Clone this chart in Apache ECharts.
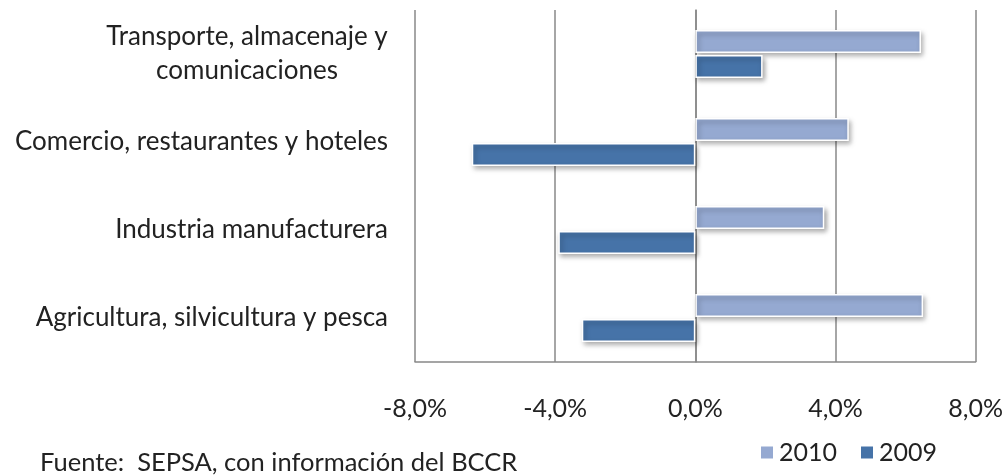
<!DOCTYPE html>
<html>
<head>
<meta charset="utf-8">
<script src="https://cdn.jsdelivr.net/npm/echarts@6/dist/echarts.min.js"></script>
<style>
  html, body { margin: 0; padding: 0; background: #fff; }
  #chart { width: 1006px; height: 476px; }
</style>
</head>
<body>
<div id="chart"></div>
<script>
// categories bottom -> top
var sectores = [
  'Agricultura, silvicultura y pesca',
  'Industria manufacturera',
  'Comercio, restaurantes y hoteles',
  'Transporte, almacenaje y\ncomunicaciones'
];
var valores2010 = [6.50, 3.68, 4.38, 6.44];
var valores2009 = [-3.24, -3.91, -6.38, 1.92];
var ticksX = [-8, -4, 0, 4, 8];

var chart = echarts.init(document.getElementById('chart'));
var fuente = 'Lato, "Open Sans", sans-serif';

function fmtPct(v) {
  return v.toFixed(1).replace('.', ',') + '%';
}

var estiloBarra = function (color) {
  return {
    color: color,
    borderColor: '#fff',
    borderWidth: 1.5,
    shadowBlur: 5,
    shadowOffsetX: 2,
    shadowOffsetY: 3,
    shadowColor: 'rgba(0,0,0,0.35)'
  };
};

var option = {
  animation: false,
  textStyle: { fontFamily: fuente },
  grid: { left: 415, right: 28, top: 10, bottom: 114 },
  legend: {
    data: ['2010', '2009'],
    right: 64,
    bottom: 6,
    itemWidth: 14,
    itemHeight: 14,
    itemGap: 22,
    icon: 'rect',
    textStyle: { fontSize: 25, color: '#222', fontFamily: fuente }
  },
  graphic: [{
    type: 'text',
    left: 40,
    bottom: 0,
    style: {
      text: 'Fuente:  SEPSA, con información del BCCR',
      fontSize: 25.5,
      fontFamily: fuente,
      fill: '#222'
    }
  }],
  xAxis: {
    type: 'value',
    min: ticksX[0],
    max: ticksX[ticksX.length - 1],
    interval: 4,
    axisLine: { show: true, lineStyle: { color: '#888', width: 1.5 } },
    axisTick: { show: false },
    splitLine: { show: true, lineStyle: { color: '#888', width: 1.5 } },
    axisLabel: {
      formatter: fmtPct,
      fontSize: 25,
      color: '#222',
      margin: 34
    }
  },
  yAxis: {
    type: 'category',
    data: sectores,
    axisLine: { show: true, lineStyle: { color: '#888', width: 1.5 } },
    axisTick: { show: false },
    axisLabel: {
      fontSize: 26,
      color: '#222',
      margin: 27,
      lineHeight: 34,
      formatter: function (v) {
        if (v.indexOf('\n') >= 0) return '{t|' + v + '}';
        return v;
      },
      rich: {
        t: { width: 282, align: 'center', fontSize: 26, lineHeight: 34, color: '#222' }
      }
    }
  },
  series: [{
    name: '2010',
    type: 'bar',
    data: valores2010,
    barWidth: 23,
    barGap: '8%',
    itemStyle: estiloBarra('#95A9D1')
  }, {
    name: '2009',
    type: 'bar',
    data: valores2009,
    barWidth: 23,
    barGap: '8%',
    itemStyle: estiloBarra('#4673A8')
  }]
};
chart.setOption(option);
</script>
</body>
</html>
